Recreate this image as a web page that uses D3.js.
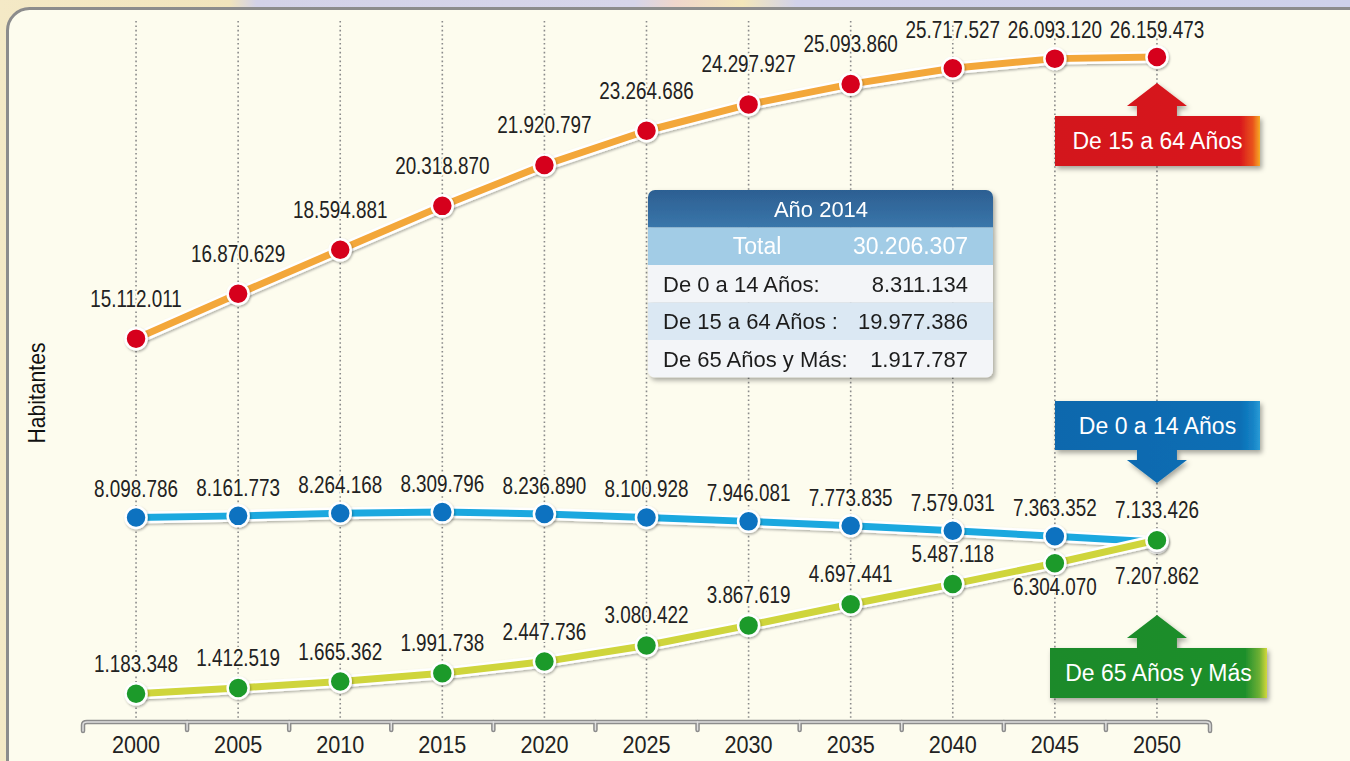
<!DOCTYPE html>
<meta charset="utf-8">
<style>

body {
  margin: 0;
  overflow: hidden;
}

text {
  font-family: "Liberation Sans", Arial, sans-serif;
}

.grid line {
  stroke: #8a8a8a;
  stroke-width: 1.6px;
  stroke-dasharray: 1.6 2.8;
}

.value {
  font-size: 23px;
  fill: #222;
  stroke: #fdfcee;
  stroke-width: 4px;
  paint-order: stroke;
  stroke-linejoin: round;
}

.xaxis text {
  font-size: 24px;
  fill: #222;
}

</style>
<body>
<script src="https://d3js.org/d3.v7.min.js"></script>
<script>

var years = [2000, 2005, 2010, 2015, 2020, 2025, 2030, 2035, 2040, 2045, 2050];
var pop15to64 = [15112011, 16870629, 18594881, 20318870, 21920797, 23264686, 24297927, 25093860, 25717527, 26093120, 26159473];
var pop0to14 = [8098786, 8161773, 8264168, 8309796, 8236890, 8100928, 7946081, 7773835, 7579031, 7363352, 7133426];
var pop65plus = [1183348, 1412519, 1665362, 1991738, 2447736, 3080422, 3867619, 4697441, 5487118, 6304070, 7207862];

var tableTitle = "Año 2014";
var tableTotal = ["Total", "30.206.307"];
var tableRows = [
  ["De 0 a 14 Años:", "8.311.134"],
  ["De 15 a 64 Años :", "19.977.386"],
  ["De 65 Años y Más:", "1.917.787"]
];

var width = 1350,
    height = 761;

var locale = d3.formatLocale({decimal: ",", thousands: ".", grouping: [3], currency: ["", ""]});
var fmt = locale.format(",");

var x = d3.scaleBand()
    .domain(years)
    .range([85, 1208])
    .paddingInner(0)
    .paddingOuter(0);

var y = d3.scaleLinear()
    .domain([0, 28000000])
    .range([724, 10]);

function cx(d) { return x(d) + x.bandwidth() / 2; }

var svg = d3.select("body").append("svg")
    .attr("width", width)
    .attr("height", height);

var defs = svg.append("defs");

var bg = defs.append("linearGradient").attr("id", "bg");
[[0, "#f4e9c6"], [0.17, "#f1e4bc"], [0.19, "#d3d2e8"], [0.47, "#d6d5ea"], [0.5, "#efd6cc"], [0.55, "#f3e7ba"], [0.59, "#d2d2ea"], [1, "#ced1ea"]]
    .forEach(function(s) { bg.append("stop").attr("offset", s[0]).attr("stop-color", s[1]); });

function hGrad(id, stops) {
  var g = defs.append("linearGradient").attr("id", id);
  stops.forEach(function(s) { g.append("stop").attr("offset", s[0]).attr("stop-color", s[1]); });
}

hGrad("redFill", [[0, "#d3131c"], [0.9, "#d8151d"], [0.965, "#e9531d"], [1, "#f7aa26"]]);
hGrad("blueFill", [[0, "#0a68ad"], [0.9, "#0b6eb4"], [0.965, "#1583c6"], [1, "#2a9bd6"]]);
hGrad("greenFill", [[0, "#1b8a2a"], [0.9, "#1e8f2c"], [0.965, "#6fb034"], [1, "#d3d83c"]]);

var hdr = defs.append("linearGradient").attr("id", "hdrFill").attr("x1", 0).attr("x2", 0).attr("y1", 0).attr("y2", 1);
hdr.append("stop").attr("offset", 0).attr("stop-color", "#2c5f92");
hdr.append("stop").attr("offset", 1).attr("stop-color", "#3a76aa");

var shadow = defs.append("filter").attr("id", "shadow")
    .attr("x", "-20%").attr("y", "-20%").attr("width", "140%").attr("height", "150%");
shadow.append("feDropShadow")
    .attr("dx", 2).attr("dy", 3).attr("stdDeviation", 2.5)
    .attr("flood-color", "#000").attr("flood-opacity", 0.35);

var dotShadow = defs.append("filter").attr("id", "dotShadow")
    .attr("x", "-50%").attr("y", "-50%").attr("width", "200%").attr("height", "200%");
dotShadow.append("feDropShadow")
    .attr("dx", 1).attr("dy", 1.5).attr("stdDeviation", 1.2)
    .attr("flood-color", "#000").attr("flood-opacity", 0.3);

// background + frame
svg.append("rect")
    .attr("width", width)
    .attr("height", height)
    .attr("fill", "url(#bg)");

svg.append("rect")
    .attr("x", 7.5)
    .attr("y", 8.5)
    .attr("width", width + 40)
    .attr("height", height + 40)
    .attr("rx", 22)
    .attr("fill", "#fdfcee")
    .attr("stroke", "#8c8c8c")
    .attr("stroke-width", 3);

// vertical dotted grid
svg.append("g")
    .attr("class", "grid")
  .selectAll("line")
    .data(years)
  .enter().append("line")
    .attr("x1", cx)
    .attr("x2", cx)
    .attr("y1", 21)
    .attr("y2", 720);

// x axis as a ruler
var axisY = 722;
var edges = years.map(function(d) { return x(d); }).concat([x.range()[1]]);
var ruler = svg.append("g").attr("class", "ruler");

[["#8c8c8c", 4.5], ["#dedede", 1.5]].forEach(function(s) {
  ruler.append("path")
      .attr("d", "M" + (edges[0] - 2) + "," + (axisY + 9) + "V" + (axisY + 3) + "Q" + (edges[0] - 2) + "," + axisY + " " + (edges[0] + 2) + "," + axisY +
          "H" + (edges[edges.length - 1] - 2) + "Q" + (edges[edges.length - 1] + 2) + "," + axisY + " " + (edges[edges.length - 1] + 2) + "," + (axisY + 3) + "V" + (axisY + 9))
      .attr("fill", "none")
      .attr("stroke", s[0])
      .attr("stroke-width", s[1])
      .attr("stroke-linecap", "round");
  ruler.selectAll(null)
      .data(edges.slice(1, -1))
    .enter().append("line")
      .attr("x1", function(d) { return d; })
      .attr("x2", function(d) { return d; })
      .attr("y1", axisY)
      .attr("y2", axisY + 8)
      .attr("stroke", s[0])
      .attr("stroke-width", s[1])
      .attr("stroke-linecap", "round");
});

// tick labels, slightly condensed like the original type
svg.append("g")
    .attr("class", "xaxis")
    .selectAll("text")
    .data(years)
  .enter().append("text")
    .attr("transform", function(d) { return "translate(" + cx(d) + "," + (axisY + 31) + ") scale(0.9,1)"; })
    .attr("text-anchor", "middle")
    .text(function(d) { return d; });

svg.append("text")
    .attr("transform", "translate(45,393) rotate(-90) scale(0.92,1)")
    .attr("text-anchor", "middle")
    .style("font-size", "23px")
    .style("fill", "#111")
    .text("Habitantes");

// series
var series = [
  {key: "0-14", values: pop0to14, line: "#1ba8df", dot: "#0b72c0", labelDy: function(d, i) { return years[i] == 2050 ? -32 : -28; }},
  {key: "65+", values: pop65plus, line: "#cfd53c", dot: "#1c9a2c", labelDy: function(d, i) { return years[i] == 2050 ? 36 : years[i] == 2045 ? 24 : -30; }},
  {key: "15-64", values: pop15to64, line: "#f3a73a", dot: "#d6001c", labelDy: function(d, i) { return Math.max(y(d) - 40, 30) - y(d); }}
];

var line = d3.line()
    .x(function(d, i) { return cx(years[i]); })
    .y(function(d) { return y(d); });

series.forEach(function(s) {
  var g = svg.append("g").attr("class", "series");

  g.append("path")
      .datum(s.values)
      .attr("d", line)
      .attr("fill", "none")
      .attr("stroke", "#fff")
      .attr("stroke-width", 12)
      .attr("stroke-linejoin", "round")
      .attr("filter", "url(#dotShadow)");

  g.append("path")
      .datum(s.values)
      .attr("d", line)
      .attr("fill", "none")
      .attr("stroke", s.line)
      .attr("stroke-width", 7)
      .attr("stroke-linejoin", "round");

  g.selectAll("circle")
      .data(s.values)
    .enter().append("circle")
      .attr("cx", function(d, i) { return cx(years[i]); })
      .attr("cy", function(d) { return y(d); })
      .attr("r", 10.5)
      .attr("fill", s.dot)
      .attr("stroke", "#fff")
      .attr("stroke-width", 2.5)
      .attr("filter", "url(#dotShadow)");
});

series.forEach(function(s) {
  svg.append("g")
    .selectAll("text")
      .data(s.values)
    .enter().append("text")
      .attr("class", "value")
      .attr("transform", function(d, i) {
        return "translate(" + cx(years[i]) + "," + (y(d) + s.labelDy(d, i) + 8) + ") scale(0.82,1)";
      })
      .attr("text-anchor", "middle")
      .text(fmt);
});

// summary table
var tb = svg.append("g")
    .attr("transform", "translate(648,190)")
    .attr("filter", "url(#shadow)");

var tw = 345, rh = 37.5;

defs.append("clipPath").attr("id", "tclip")
  .append("rect")
    .attr("width", tw)
    .attr("height", rh * 5)
    .attr("rx", 7);

var tbody = tb.append("g").attr("clip-path", "url(#tclip)");

tbody.append("rect").attr("width", tw).attr("height", rh).attr("fill", "url(#hdrFill)");
tbody.append("rect").attr("y", rh).attr("width", tw).attr("height", rh).attr("fill", "#a2cce6");
tbody.selectAll(".row")
    .data(tableRows)
  .enter().append("rect")
    .attr("class", "row")
    .attr("y", function(d, i) { return rh * (i + 2); })
    .attr("width", tw)
    .attr("height", rh)
    .attr("fill", function(d, i) { return i % 2 ? "#dbe8f3" : "#f3f5f8"; });

tbody.append("text")
    .attr("x", 173)
    .attr("y", rh / 2 + 8)
    .attr("text-anchor", "middle")
    .style("font-size", "22px")
    .style("fill", "#fff")
    .text(tableTitle);

tbody.append("text")
    .attr("x", 109)
    .attr("y", rh * 1.5 + 8)
    .attr("text-anchor", "middle")
    .style("font-size", "23px")
    .style("fill", "#fff")
    .text(tableTotal[0]);

tbody.append("text")
    .attr("x", 320)
    .attr("y", rh * 1.5 + 8)
    .attr("text-anchor", "end")
    .style("font-size", "23px")
    .style("fill", "#fff")
    .text(tableTotal[1]);

tableRows.forEach(function(r, i) {
  tbody.append("text")
      .attr("x", 15)
      .attr("y", rh * (i + 2.5) + 8)
      .style("font-size", "22px")
      .style("fill", "#1e1e1e")
      .text(r[0]);
  tbody.append("text")
      .attr("x", 320)
      .attr("y", rh * (i + 2.5) + 8)
      .attr("text-anchor", "end")
      .style("font-size", "22px")
      .style("fill", "#1e1e1e")
      .text(r[1]);
});

// arrow callouts
function callout(label, fill, left, right, top, bottom, tipY) {
  var c = cx(2050), p;
  if (tipY < top) {
    var base = tipY + 23;
    p = "M" + left + "," + top + "H" + (c - 20) + "V" + base + "H" + (c - 30) + "L" + c + "," + tipY +
        "L" + (c + 30) + "," + base + "H" + (c + 20) + "V" + top + "H" + right + "V" + bottom + "H" + left + "Z";
  } else {
    var base2 = tipY - 23;
    p = "M" + left + "," + top + "H" + right + "V" + bottom + "H" + (c + 20) + "V" + base2 + "H" + (c + 30) +
        "L" + c + "," + tipY + "L" + (c - 30) + "," + base2 + "H" + (c - 20) + "V" + bottom + "H" + left + "Z";
  }
  var g = svg.append("g");
  g.append("path")
      .attr("d", p)
      .attr("fill", fill)
      .attr("stroke-linejoin", "round")
      .attr("filter", "url(#shadow)");
  g.append("text")
      .attr("x", (left + right) / 2)
      .attr("y", (top + bottom) / 2 + 8)
      .attr("text-anchor", "middle")
      .style("font-size", "23px")
      .style("fill", "#fff")
      .text(label);
}

callout("De 15 a 64 Años", "url(#redFill)", 1055, 1260, 116, 166, 83);
callout("De 0 a 14 Años", "url(#blueFill)", 1055, 1260, 401, 450, 483);
callout("De 65 Años y Más", "url(#greenFill)", 1050, 1267, 648, 698, 615);

</script>
